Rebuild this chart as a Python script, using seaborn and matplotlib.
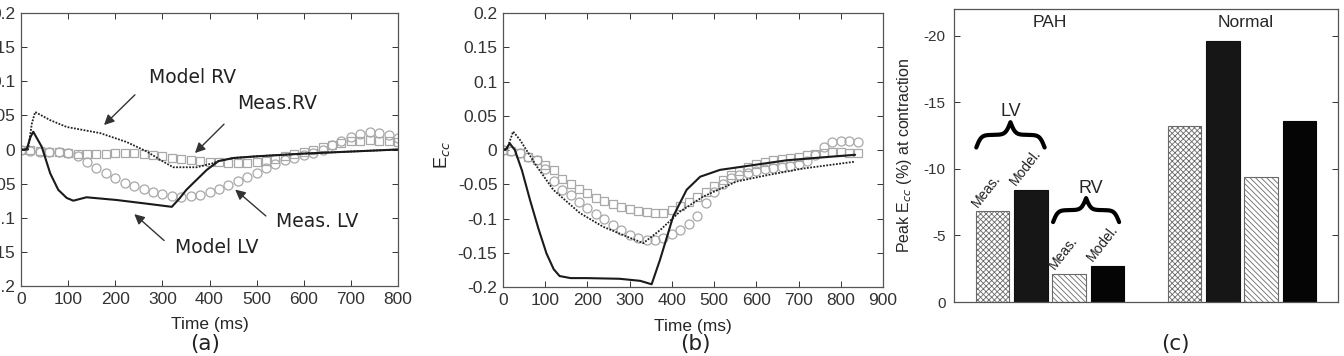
import numpy as np
import pandas as pd
import seaborn as sns
import matplotlib.pyplot as plt

# ---------------- data ----------------
# panel (a) -- PAH patient
t_meas_a = list(range(0, 801, 20))
meas_lv_a = [0, -0.002, -0.003, -0.003, -0.004, -0.005, -0.009, -0.018, -0.027, -0.035,
             -0.042, -0.049, -0.054, -0.058, -0.062, -0.065, -0.068, -0.069, -0.068, -0.066,
             -0.063, -0.058, -0.052, -0.046, -0.040, -0.034, -0.027, -0.021, -0.016, -0.012,
             -0.008, -0.005, 0.000, 0.006, 0.013, 0.019, 0.023, 0.025, 0.024, 0.021, 0.017]
meas_rv_a = [0, -0.001, -0.002, -0.003, -0.004, -0.005, -0.006, -0.006, -0.006, -0.006,
             -0.005, -0.005, -0.005, -0.006, -0.008, -0.010, -0.012, -0.014, -0.016, -0.017,
             -0.018, -0.019, -0.020, -0.020, -0.020, -0.019, -0.017, -0.014, -0.010, -0.006,
             -0.003, 0.000, 0.003, 0.006, 0.009, 0.012, 0.013, 0.014, 0.013, 0.012, 0.011]
t_mlv_a = [0, 12, 20, 26, 44, 62, 79, 97, 111, 139, 203, 274, 320, 336, 351, 394, 419, 450, 500, 600, 700, 800]
model_lv_a = [0, 0, 0.018, 0.026, 0.004, -0.035, -0.059, -0.071, -0.075, -0.070, -0.074, -0.080,
              -0.084, -0.072, -0.059, -0.030, -0.017, -0.0125, -0.010, -0.006, -0.003, 0]
t_mrv_a = [0, 15, 23, 30, 62, 97, 168, 224, 267, 295, 323, 373, 408, 419, 450, 500, 600, 700, 800]
model_rv_a = [0, 0, 0.038, 0.055, 0.043, 0.033, 0.024, 0.011, -0.003, -0.015, -0.026, -0.026,
              -0.020, -0.017, -0.0125, -0.010, -0.006, -0.003, 0]

# panel (b) -- normal subject
t_meas_b = list(range(0, 841, 20))
meas_lv_b = [0, -0.002, -0.005, -0.010, -0.015, -0.028, -0.045, -0.058, -0.066, -0.076,
             -0.085, -0.093, -0.101, -0.109, -0.117, -0.124, -0.129, -0.131, -0.131, -0.128,
             -0.123, -0.117, -0.108, -0.096, -0.078, -0.062, -0.049, -0.041, -0.036, -0.033,
             -0.030, -0.028, -0.026, -0.025, -0.023, -0.020, -0.016, -0.007, 0.004, 0.011,
             0.013, 0.013, 0.011]
meas_rv_b = [0, -0.002, -0.005, -0.010, -0.015, -0.022, -0.029, -0.042, -0.050, -0.057,
             -0.063, -0.070, -0.075, -0.079, -0.083, -0.086, -0.089, -0.091, -0.092, -0.092,
             -0.088, -0.082, -0.076, -0.069, -0.061, -0.053, -0.044, -0.036, -0.030, -0.025,
             -0.021, -0.018, -0.015, -0.013, -0.011, -0.010, -0.008, -0.006, -0.004, -0.003,
             -0.003, -0.004, -0.004]
t_mlv_b = [0, 8, 16, 28, 45, 64, 84, 103, 120, 134, 160, 197, 276, 325, 352, 372, 403, 435, 467, 514, 593, 672, 751, 834]
model_lv_b = [0, 0.002, 0.0097, 0, -0.03, -0.073, -0.115, -0.151, -0.174, -0.184, -0.187, -0.187,
              -0.188, -0.191, -0.196, -0.160, -0.097, -0.058, -0.039, -0.029, -0.022, -0.015, -0.011, -0.007]
t_mrv_b = [0, 10, 24, 40, 80, 119, 182, 237, 292, 332, 372, 419, 474, 553, 632, 711, 834]
model_rv_b = [0, 0.002, 0.027, 0.015, -0.024, -0.058, -0.092, -0.112, -0.126, -0.136, -0.117,
              -0.090, -0.068, -0.046, -0.036, -0.027, -0.017]

# panel (c) -- peak Ecc (%)
groups = ['PAH', 'Normal']
bar_names = ['Meas. LV', 'Model. LV', 'Meas. RV', 'Model. RV']
peak_pah = [-6.8, -8.4, -2.1, -2.7]
peak_normal = [-13.2, -19.6, -9.4, -13.6]

# ---------------- figure ----------------
sns.set_theme(style='ticks')
plt.rcParams['font.family'] = ['Liberation Sans', 'DejaVu Sans']
plt.rcParams['axes.unicode_minus'] = False
plt.rcParams['hatch.linewidth'] = 0.6
plt.rcParams['hatch.color'] = '#8a8a8a'

fig = plt.figure(figsize=(13.44, 3.56), dpi=100)
ax_a = fig.add_axes([21/1344, 1 - 286/356, 377/1344, 273/356])
ax_b = fig.add_axes([503/1344, 1 - 287/356, 380/1344, 274/356])
ax_c = fig.add_axes([954/1344, 1 - 302/356, 384/1344, 293/356])

gray = '#a8a8a8'


def strain_panel(ax, tm, lv, rv, tlv, mlv, trv, mrv):
    sns.lineplot(x=tm, y=lv, ax=ax, linestyle='none', marker='o', markersize=6.5,
                 markerfacecolor='none', markeredgecolor=gray, markeredgewidth=0.9)
    sns.lineplot(x=tm, y=rv, ax=ax, linestyle='none', marker='s', markersize=6,
                 markerfacecolor='none', markeredgecolor=gray, markeredgewidth=0.9)
    sns.lineplot(x=trv, y=mrv, ax=ax, color='#222222', linestyle=(0, (1, 0.8)), linewidth=1.3)
    sns.lineplot(x=tlv, y=mlv, ax=ax, color='#1a1a1a', linestyle='-', linewidth=1.5)
    ax.set_ylim(-0.2, 0.2)
    ax.set_yticks(np.arange(-0.2, 0.2001, 0.05))
    ax.set_yticklabels(['-0.2', '-0.15', '-0.1', '-0.05', '0', '0.05', '0.1', '0.15', '0.2'])
    ax.set_xlabel('Time (ms)', fontsize=12.5, labelpad=2)
    ax.xaxis.set_label_coords(0.5, -0.115)
    ax.tick_params(direction='in', top=True, right=True, length=4, width=0.7,
                   colors='#333333', labelsize=12.5, pad=4)
    for s in ax.spines.values():
        s.set_color('#555555')
        s.set_linewidth(0.9)


strain_panel(ax_a, t_meas_a, meas_lv_a, meas_rv_a, t_mlv_a, model_lv_a, t_mrv_a, model_rv_a)
ax_a.set_xlim(0, 800)
ax_a.set_xticks(range(0, 801, 100))

strain_panel(ax_b, t_meas_b, meas_lv_b, meas_rv_b, t_mlv_b, model_lv_b, t_mrv_b, model_rv_b)
ax_b.set_xlim(0, 900)
ax_b.set_xticks(range(0, 901, 100))
ax_b.set_ylabel('E$_{cc}$', fontsize=13)
ax_b.yaxis.set_label_coords(-0.135, 0.48)

# annotations on (a)
arrow = dict(arrowstyle='-|>', color='#333333', lw=1.0, mutation_scale=15)
label_kw = dict(fontsize=13.5, family='DejaVu Sans', color='#222222', ha='center', va='center')
ax_a.annotate('', xy=(172, 0.033), xytext=(246, 0.083), arrowprops=arrow)
ax_a.text(363, 0.106, 'Model RV', **label_kw)
ax_a.annotate('', xy=(365, -0.008), xytext=(435, 0.040), arrowprops=arrow)
ax_a.text(543, 0.067, 'Meas.RV', **label_kw)
ax_a.annotate('', xy=(450, -0.056), xytext=(524, -0.100), arrowprops=arrow)
ax_a.text(628, -0.106, 'Meas. LV', **label_kw)
ax_a.annotate('', xy=(236, -0.092), xytext=(308, -0.136), arrowprops=arrow)
ax_a.text(416, -0.143, 'Model LV', **label_kw)

# ---------------- panel (c) ----------------
positions = [1, 2, 3, 4, 6, 7, 8, 9]
df = pd.DataFrame({
    'pos': positions,
    'value': peak_pah + peak_normal,
    'bar': bar_names * 2,
    'group': [groups[0]] * 4 + [groups[1]] * 4,
})
sns.barplot(data=df, x='pos', y='value', native_scale=True, width=0.88, errorbar=None,
            color='white', ax=ax_c)
styles = {
    'Meas. LV': dict(fc='white', hatch='xxxxxx', ec='#6a6a6a'),
    'Model. LV': dict(fc='#161616', hatch=None, ec='#111111'),
    'Meas. RV': dict(fc='white', hatch='\\\\\\\\\\\\', ec='#6a6a6a'),
    'Model. RV': dict(fc='#050505', hatch=None, ec='#050505'),
}
for patch, name in zip(ax_c.patches, df['bar']):
    st = styles[name]
    patch.set_facecolor(st['fc'])
    patch.set_edgecolor(st['ec'])
    patch.set_linewidth(0.8)
    if st['hatch']:
        patch.set_hatch(st['hatch'])

ax_c.set_xlim(0, 10)
ax_c.set_ylim(0, -22)
ax_c.set_yticks([0, -5, -10, -15, -20])
ax_c.set_yticklabels(['0', '-5', '-10', '-15', '-20'])
ax_c.set_xticks([])
ax_c.set_xlabel('')
ax_c.set_ylabel('Peak E$_{cc}$ (%) at contraction', fontsize=11.5)
ax_c.yaxis.set_label_coords(-0.105, 0.5)
ax_c.tick_params(axis='y', direction='in', right=True, length=4, width=0.7,
                 colors='#333333', labelsize=11, pad=6)
for s in ax_c.spines.values():
    s.set_color('#555555')
    s.set_linewidth(0.9)

ax_c.text(2.5, -21.0, 'PAH', ha='center', va='center', fontsize=12.5)
ax_c.text(7.6, -21.0, 'Normal', ha='center', va='center', fontsize=12.5)


def curly_brace(ax, xa, xb, ybase, height, beta=28):
    u = np.linspace(0, 0.5, 101)
    half = 1 / (1 + np.exp(-beta * u)) + 1 / (1 + np.exp(-beta * (u - 0.5)))
    shape = np.concatenate([half, half[-2::-1]]) - 0.5
    xs = np.linspace(xa, xb, len(shape))
    ax.plot(xs, ybase - shape * height, color='black', lw=3.0, solid_capstyle='round')


curly_brace(ax_c, positions[0] - 0.42, positions[1] + 0.36, -11.6, 1.9)
ax_c.text((positions[0] + positions[1]) / 2 - 0.03, -14.3, 'LV', ha='center', va='center', fontsize=13)
curly_brace(ax_c, positions[2] - 0.42, positions[3] + 0.30, -6.0, 1.8)
ax_c.text((positions[2] + positions[3]) / 2 + 0.05, -8.5, 'RV', ha='center', va='center', fontsize=13)

for p, v, name in zip(positions[:4], peak_pah, bar_names):
    ax_c.text(p - 0.32, v - 0.15, name.split()[0], rotation=52, rotation_mode='anchor',
              ha='left', va='bottom', fontsize=10, color='#222222')

# panel letters
for xc, lab in [(205, '(a)'), (695, '(b)'), (1175, '(c)')]:
    fig.text(xc / 1344, 1 - 344 / 356, lab, ha='center', va='center', fontsize=15.5,
             family='DejaVu Sans', color='#222222')

fig.savefig('out.png', dpi=100)
